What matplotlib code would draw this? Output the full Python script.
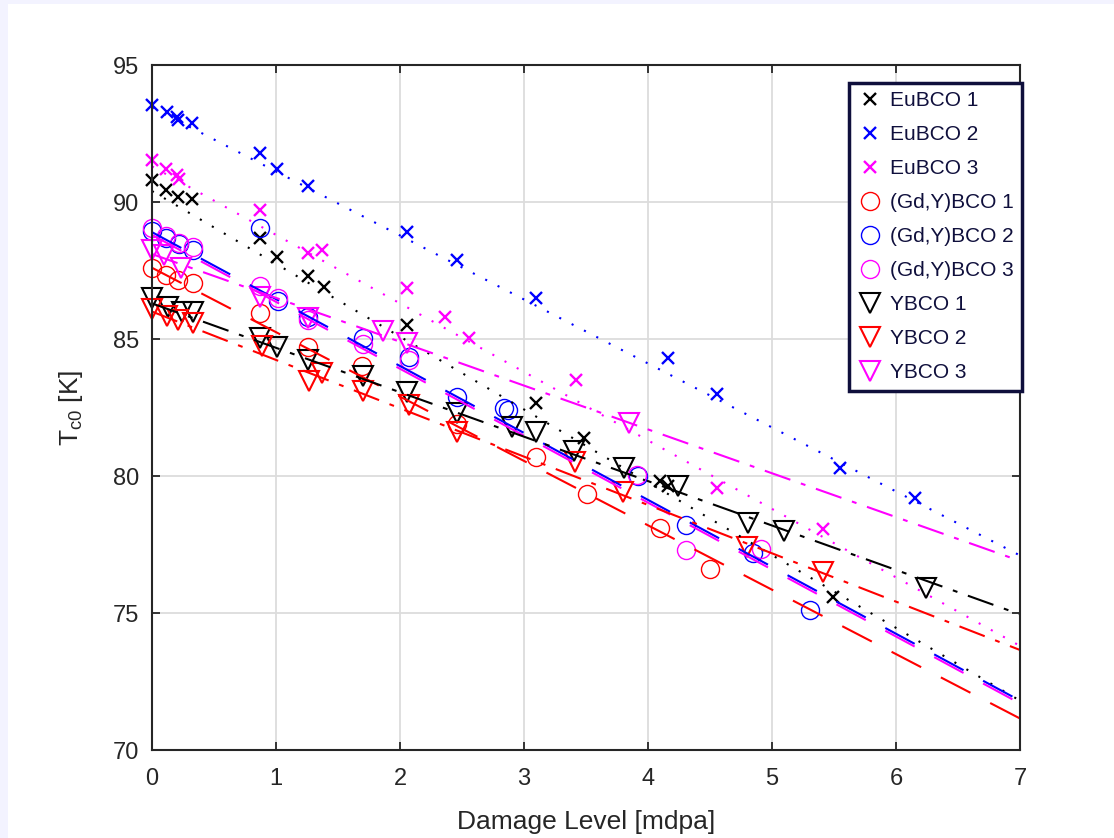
import numpy as np
import matplotlib
matplotlib.use('Agg')
from matplotlib import pyplot as plt
from matplotlib.patches import Rectangle

plt.rcParams['font.family'] = ['Liberation Sans', 'DejaVu Sans']
plt.rcParams['mathtext.fontset'] = 'custom'
plt.rcParams['mathtext.rm'] = 'Liberation Sans'
plt.rcParams['lines.scale_dashes'] = False

# measured data (damage level [mdpa], Tc0 [K])
eu1_x = [0, 0.11, 0.21, 0.32, 0.87, 1.01, 1.26, 1.39, 2.06, 3.10, 3.48, 4.10, 4.16, 5.49]
eu1_y = [90.8, 90.45, 90.2, 90.1, 88.7, 88.0, 87.3, 86.9, 85.5, 82.65, 81.4, 79.8, 79.65, 75.6]
eu2_x = [0, 0.12, 0.2, 0.21, 0.32, 0.87, 1.01, 1.26, 2.06, 2.46, 3.10, 4.16, 4.56, 5.55, 6.15]
eu2_y = [93.55, 93.3, 93.1, 93.0, 92.9, 91.8, 91.2, 90.6, 88.9, 87.9, 86.5, 84.3, 83.0, 80.3, 79.2]
eu3_x = [0, 0.11, 0.2, 0.22, 0.87, 1.26, 1.37, 2.06, 2.36, 2.56, 3.42, 4.56, 5.41]
eu3_y = [91.55, 91.2, 91.0, 90.85, 89.7, 88.15, 88.25, 86.85, 85.8, 85.05, 83.5, 79.55, 78.05]
gy1_x = [0, 0.11, 0.21, 0.33, 0.87, 1.26, 1.69, 2.46, 3.10, 3.51, 4.10, 4.50]
gy1_y = [87.6, 87.35, 87.15, 87.05, 85.95, 84.7, 84.0, 81.9, 80.7, 79.35, 78.1, 76.6]
gy2_x = [0, 0.11, 0.22, 0.33, 0.87, 1.02, 1.26, 1.70, 2.07, 2.46, 2.84, 2.87, 3.92, 4.31, 4.85, 5.31]
gy2_y = [88.95, 88.7, 88.45, 88.25, 89.05, 86.4, 85.8, 85.05, 84.35, 82.9, 82.5, 82.4, 80.0, 78.2, 77.2, 75.1]
gy3_x = [0, 0.11, 0.22, 0.33, 0.87, 1.02, 1.26, 1.70, 2.07, 3.91, 4.31, 4.91]
gy3_y = [89.05, 88.75, 88.5, 88.35, 86.95, 86.5, 85.7, 84.8, 84.25, 80.05, 77.3, 77.35]
yb1_x = [0, 0.13, 0.24, 0.33, 0.87, 1.01, 1.26, 1.70, 2.06, 2.46, 2.90, 3.10, 3.40, 3.81, 4.24, 4.81, 5.10, 6.24]
yb1_y = [86.5, 86.15, 86.0, 86.0, 85.05, 84.7, 84.25, 83.65, 83.05, 82.3, 81.8, 81.6, 80.9, 80.3, 79.65, 78.3, 78.0, 75.9]
yb2_x = [0, 0.12, 0.21, 0.33, 0.89, 1.27, 1.37, 1.70, 2.07, 2.46, 3.41, 3.80, 4.80, 5.41]
yb2_y = [86.1, 85.85, 85.7, 85.6, 84.75, 83.45, 83.75, 83.1, 82.6, 81.6, 80.5, 79.4, 77.4, 76.5]
yb3_x = [0, 0.1, 0.23, 0.87, 1.26, 1.86, 2.06, 3.85]
yb3_y = [88.25, 88.05, 87.6, 86.55, 85.75, 85.3, 84.85, 81.95]

# linear fits, value at x = 0 and x = 7
fit_x = [0, 7]
fit_y = [[90.4, 71.8], [93.45, 77.1], [91.3, 73.8],
         [87.6, 71.15], [88.9, 71.8], [88.8, 71.7],
         [86.3, 74.95], [86.0, 73.65], [88.1, 76.9]]

labels = ['EuBCO 1', 'EuBCO 2', 'EuBCO 3', '(Gd,Y)BCO 1', '(Gd,Y)BCO 2', '(Gd,Y)BCO 3',
          'YBCO 1', 'YBCO 2', 'YBCO 3']
xs = [eu1_x, eu2_x, eu3_x, gy1_x, gy2_x, gy3_x, yb1_x, yb2_x, yb3_x]
ys = [eu1_y, eu2_y, eu3_y, gy1_y, gy2_y, gy3_y, yb1_y, yb2_y, yb3_y]
K, B, M, R = '#000000', '#0000FF', '#FF00FF', '#FF0000'
colors = [K, B, M, R, B, M, K, R, M]
markers = ['x'] * 3 + ['o'] * 3 + ['v'] * 3
msizes = [9] * 3 + [13] * 3 + [14.5] * 3
mews = [1.7] * 3 + [1.0] * 3 + [1.5] * 3
dotted = (0, (1.5, 8.5))
dashed = (0, (24, 16))
dashdot = (0, (19.5, 8, 3.5, 8))
lstyles = [dotted] * 3 + [dashed] * 3 + [dashdot] * 3

fig = plt.figure(figsize=(11.14, 8.38), dpi=100)
fig.patch.set_facecolor('#F3F3FF')
fig.add_artist(Rectangle((8 / 1114, 0), 1, 1 - 4 / 838, transform=fig.transFigure,
                         facecolor='white', edgecolor='none', zorder=-10))
ax = fig.add_axes([152 / 1114, 1 - 750 / 838, 868 / 1114, 685 / 838])

handles = []
for i in range(9):
    h, = ax.plot(xs[i], ys[i], linestyle='none', marker=markers[i], ms=msizes[i],
                 mfc='none', mec=colors[i], mew=mews[i], label=labels[i], clip_on=False)
    handles.append(h)
for i in range(9):
    ax.plot(fit_x, fit_y[i], color=colors[i], lw=1.5, linestyle=lstyles[i])

ax.set_xlim(0, 7)
ax.set_ylim(70, 95)
ax.set_xticks(np.arange(0, 8, 1))
ax.set_yticks(np.arange(70, 96, 5))
ax.grid(True, color='#dcdcdc', lw=1.3)
ax.set_axisbelow(True)
for s in ax.spines.values():
    s.set_color('#262626')
    s.set_linewidth(1.5)
ax.tick_params(direction='in', length=6, width=1.3, top=True, right=True,
               labelsize=17, colors='#262626')
ax.tick_params(axis='x', pad=13)
ax.tick_params(axis='y', pad=9)
ax.set_xlabel('Damage Level [mdpa]', fontsize=19, color='#262626', labelpad=14)
ax.set_ylabel(r'T$_{\mathrm{c0}}$ [K]', fontsize=19, color='#262626', labelpad=20)

leg = ax.legend(handles=handles, loc='upper right', bbox_to_anchor=(1.0023, 0.9737),
                fontsize=15, frameon=True, fancybox=False, framealpha=1,
                labelcolor='#0f0f3c', edgecolor='#0f0f3c', handlelength=1.2,
                handletextpad=0.35, borderpad=0.4, labelspacing=0.72, borderaxespad=0)
leg.get_frame().set_linewidth(2.5)

fig.savefig('out.png', dpi=100, facecolor=fig.get_facecolor())
